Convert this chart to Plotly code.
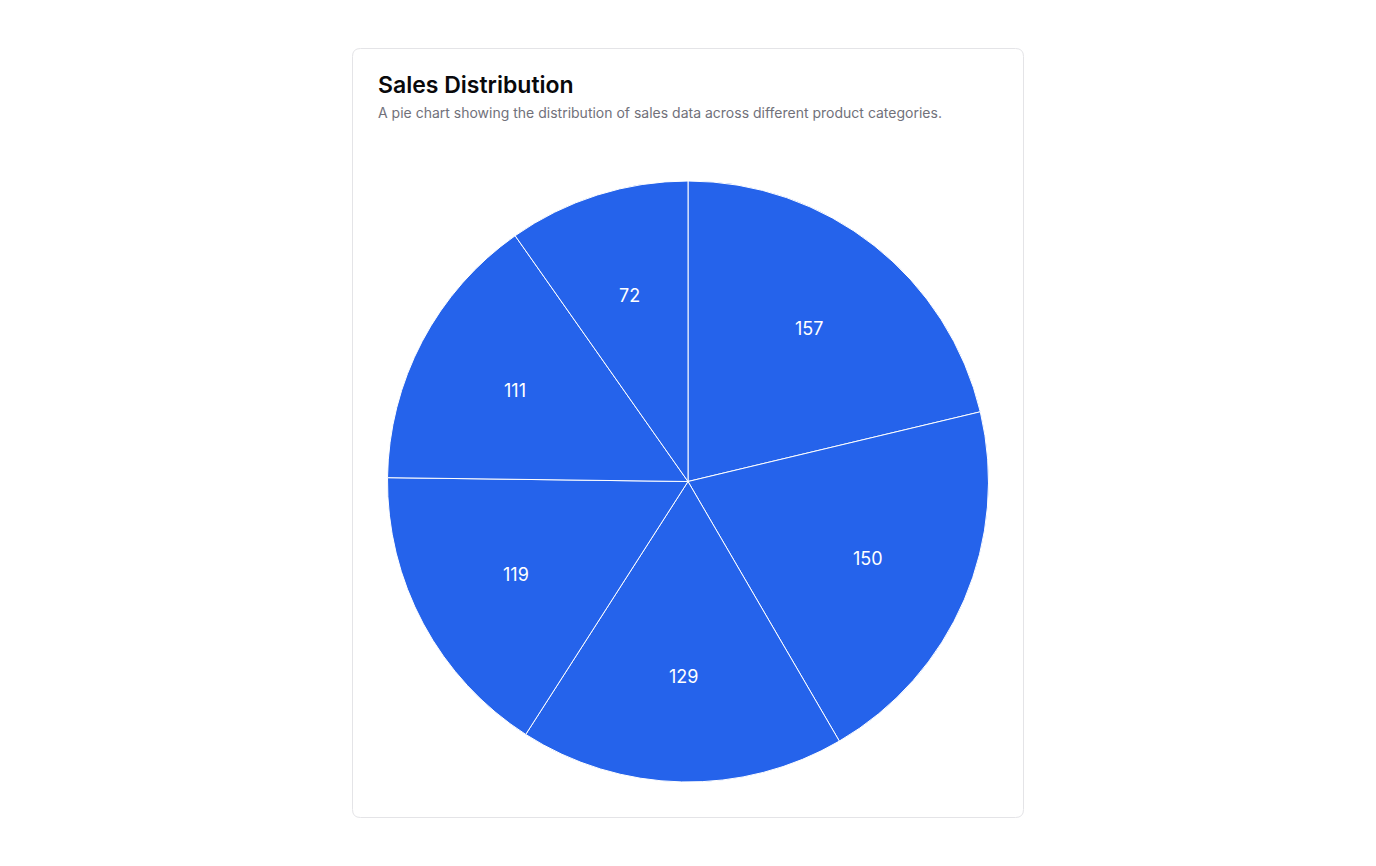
import math
import plotly.graph_objects as go

categories = ["Category A", "Category B", "Category C", "Category D", "Category E", "Category F"]
sales = [157, 150, 129, 119, 111, 72]

W, H = 1376, 866
BLUE = "#2563eb"

def px(x):
    return x / W

def py(y):
    return 1 - y / H

# pie geometry (pixels)
CX, CY, R = 688, 481.5, 300.5
LABEL_R = 0.65 * R

fig = go.Figure(go.Pie(
    labels=categories,
    values=sales,
    sort=False,
    direction="clockwise",
    rotation=0,
    textinfo="none",
    marker=dict(colors=[BLUE] * len(sales), line=dict(color="white", width=1)),
    hoverinfo="label+value",
    showlegend=False,
    domain=dict(x=[px(CX - R), px(CX + R)], y=[py(CY + R), py(CY - R)]),
))

# value labels placed at mid-angle of each slice
total = sum(sales)
annotations = []
cum = 0
for v in sales:
    mid = (cum + v / 2) / total * 2 * math.pi
    cum += v
    lx = CX + LABEL_R * math.sin(mid)
    ly = CY - LABEL_R * math.cos(mid)
    annotations.append(dict(text=str(v), x=px(lx), y=py(ly), xref="paper", yref="paper",
                            xanchor="center", yanchor="middle", showarrow=False,
                            font=dict(family="Inter", size=18, color="white")))

# card with rounded corners
x0, x1, y0, y1 = px(352.5), px(1023.5), py(48.5), py(817.5)
rx, ry = 8 / W, 8 / H
path = (f"M {x0+rx},{y0} L {x1-rx},{y0} Q {x1},{y0} {x1},{y0-ry} "
        f"L {x1},{y1+ry} Q {x1},{y1} {x1-rx},{y1} L {x0+rx},{y1} "
        f"Q {x0},{y1} {x0},{y1+ry} L {x0},{y0-ry} Q {x0},{y0} {x0+rx},{y0} Z")

annotations += [
    dict(text="Sales Distribution", x=px(376), y=py(85), xref="paper", yref="paper",
         xanchor="left", yanchor="middle", showarrow=False,
         font=dict(family="Inter", size=23, weight=600, color="#09090b")),
    dict(text="A pie chart showing the distribution of sales data across different product categories.",
         x=px(376), y=py(112.5), xref="paper", yref="paper",
         xanchor="left", yanchor="middle", showarrow=False,
         font=dict(family="Inter", size=14, color="#71717a")),
]

fig.update_layout(
    width=W, height=H,
    margin=dict(l=0, r=0, t=0, b=0),
    paper_bgcolor="white",
    plot_bgcolor="white",
    font=dict(family="Inter"),
    shapes=[dict(type="path", path=path, xref="paper", yref="paper",
                 line=dict(color="#e4e4e7", width=1), fillcolor="rgba(0,0,0,0)", layer="below")],
    annotations=annotations,
)

fig.write_html("out.html")
